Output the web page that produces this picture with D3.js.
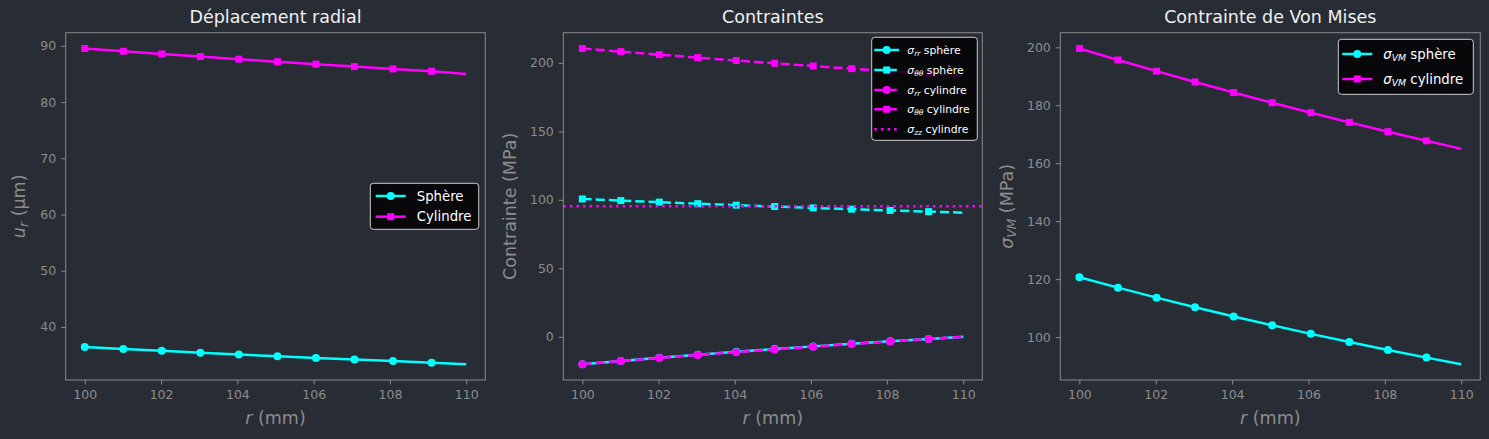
<!DOCTYPE html>
<html>
<head>
<meta charset="utf-8">
<script src="https://cdn.jsdelivr.net/npm/d3@7"></script>
<style>
  html, body { margin: 0; padding: 0; background: #282c34; }
  svg { display: block; font-family: "DejaVu Sans", sans-serif; }
</style>
</head>
<body>
<svg id="fig" width="1489" height="439"></svg>
<script>
// rayon (mm) : points avec marqueurs + dernier point à 110
const rVals = [100, 101.01, 102.02, 103.03, 104.04, 105.05, 106.06, 107.07, 108.08, 109.09, 110];

// déplacement radial (µm)
const uSphere = [36.45, 36.10, 35.76, 35.43, 35.11, 34.80, 34.50, 34.21, 33.93, 33.66, 33.38];
const uCyl = [89.52, 89.03, 88.55, 88.08, 87.62, 87.17, 86.73, 86.30, 85.88, 85.47, 85.0];

// contraintes (MPa)
const srrSphere = [-20.0, -17.61, -15.32, -13.11, -10.99, -8.95, -6.98, -5.10, -3.28, -1.52, 0];
const sttSphere = [100.63, 99.44, 98.29, 97.19, 96.12, 95.10, 94.12, 93.18, 92.27, 91.39, 90.63];
const srrCyl = [-20.0, -17.70, -15.48, -13.32, -11.22, -9.18, -7.20, -5.28, -3.41, -1.60, 0];
const sttCyl = [210.48, 208.19, 205.96, 203.80, 201.70, 199.67, 197.68, 195.76, 193.89, 192.08, 190.48];
const szzCyl = 95.24;

// Von Mises (MPa)
const vmSphere = [120.63, 117.05, 113.60, 110.30, 107.11, 104.05, 101.11, 98.27, 95.54, 92.91, 90.63];
const vmCyl = [199.60, 195.63, 191.78, 188.03, 184.40, 180.87, 177.44, 174.11, 170.87, 167.73, 164.96];

// graduations
const xTicks = [100, 102, 104, 106, 108, 110];
const yTicksU = [40, 50, 60, 70, 80, 90];
const yTicksS = [0, 50, 100, 150, 200];
const yTicksVM = [100, 120, 140, 160, 180, 200];

const CYAN = "#00ffff", MAGENTA = "#ff00ff";
const GREY = "#8c8c8c", SPINE = "#8a8a8a";
const DASH = "9.25,4", DOT = "2.5,4.1";

const svg = d3.select("#fig");
const axTop = 32.7, axBottom = 380;

// marge de 5 % comme matplotlib
function padded(vals) {
  const [lo, hi] = d3.extent(vals);
  const m = (hi - lo) * 0.05;
  return [lo - m, hi + m];
}

function panel(opts) {
  const g = svg.append("g");
  const x = d3.scaleLinear().domain(padded(rVals)).range([opts.left, opts.right]);
  const allY = opts.series.flatMap(s => s.values);
  const y = d3.scaleLinear().domain(padded(allY)).range([axBottom, axTop]);

  // axes
  const xAxis = g.append("g").attr("transform", `translate(0,${axBottom})`)
    .call(d3.axisBottom(x).tickValues(xTicks).tickSize(4.5).tickPadding(6));
  const yAxis = g.append("g").attr("transform", `translate(${opts.left},0)`)
    .call(d3.axisLeft(y).tickValues(opts.yTicks).tickSize(4.5).tickPadding(5));
  [xAxis, yAxis].forEach(a => {
    a.select(".domain").remove();
    a.selectAll(".tick line").attr("stroke", SPINE).attr("stroke-width", 1);
    a.selectAll(".tick text").attr("fill", GREY).style("font-size", "12.5px")
      .style("font-family", "DejaVu Sans");
  });

  // lignes
  const line = d3.line().x((d, i) => x(rVals[i])).y(d => y(d));
  const clip = "clip" + opts.id;
  g.append("clipPath").attr("id", clip).append("rect")
    .attr("x", opts.left).attr("y", axTop).attr("width", opts.right - opts.left).attr("height", axBottom - axTop);
  const plot = g.append("g").attr("clip-path", `url(#${clip})`);

  opts.series.forEach(s => {
    plot.append("path").datum(s.values).attr("d", line)
      .attr("fill", "none").attr("stroke", s.color).attr("stroke-width", 2.5)
      .attr("stroke-dasharray", s.dash || null);
    const pts = s.values.slice(0, 10);
    if (s.marker === "o") {
      plot.selectAll(null).data(pts).join("circle")
        .attr("cx", (d, i) => x(rVals[i])).attr("cy", d => y(d)).attr("r", 4)
        .attr("fill", s.color);
    } else {
      plot.selectAll(null).data(pts).join("rect")
        .attr("x", (d, i) => x(rVals[i]) - 3.5).attr("y", d => y(d) - 3.5)
        .attr("width", 7).attr("height", 7).attr("fill", s.color);
    }
  });
  if (opts.hline) {
    plot.append("line").attr("x1", opts.left).attr("x2", opts.right)
      .attr("y1", y(opts.hline.value)).attr("y2", y(opts.hline.value))
      .attr("stroke", opts.hline.color).attr("stroke-width", 2.5)
      .attr("stroke-dasharray", DOT);
  }

  // cadre
  g.append("rect").attr("x", opts.left).attr("y", axTop)
    .attr("width", opts.right - opts.left).attr("height", axBottom - axTop)
    .attr("fill", "none").attr("stroke", SPINE).attr("stroke-width", 1);

  // titre
  const cx = (opts.left + opts.right) / 2;
  g.append("text").attr("x", cx).attr("y", 23).attr("text-anchor", "middle")
    .attr("fill", "#f0f0f0").style("font-size", "17.5px").text(opts.title);

  // label x
  const xl = g.append("text").attr("x", cx).attr("y", 424).attr("text-anchor", "middle")
    .attr("fill", GREY).style("font-size", "17.5px");
  xl.append("tspan").attr("font-style", "italic").text("r");
  xl.append("tspan").text(" (mm)");

  // label y
  const yl = g.append("text")
    .attr("transform", `translate(${opts.ylabelX},${(axTop + axBottom) / 2}) rotate(-90)`)
    .attr("text-anchor", "middle").attr("fill", GREY).style("font-size", "17.5px");
  opts.ylabel(yl);

  // légende
  const L = opts.legend;
  const lg = g.append("g");
  lg.append("rect").attr("x", L.x0).attr("y", L.y0)
    .attr("width", L.x1 - L.x0).attr("height", L.y1 - L.y0).attr("rx", 3)
    .attr("fill", "rgba(0,0,0,0.8)").attr("stroke", "#cccccc").attr("stroke-width", 1);
  L.items.forEach((it, i) => {
    const ry = L.rows[i];
    lg.append("line").attr("x1", L.lx0).attr("x2", L.lx1).attr("y1", ry).attr("y2", ry)
      .attr("stroke", it.color).attr("stroke-width", 2.5)
      .attr("stroke-dasharray", it.dash || null);
    const mx = (L.lx0 + L.lx1) / 2;
    if (it.marker === "o") {
      lg.append("circle").attr("cx", mx).attr("cy", ry).attr("r", 4).attr("fill", it.color);
    } else if (it.marker === "s") {
      lg.append("rect").attr("x", mx - 3.5).attr("y", ry - 3.5).attr("width", 7).attr("height", 7)
        .attr("fill", it.color);
    }
    const t = lg.append("text").attr("x", L.tx).attr("y", ry).attr("dy", "0.35em")
      .attr("fill", "#ffffff").style("font-size", L.font + "px");
    it.label(t, L.font);
  });
}

function sigma(t, sub, rest, fs) {
  t.append("tspan").attr("font-style", "italic").text("σ");
  t.append("tspan").attr("font-style", "italic").attr("baseline-shift", "-22%")
    .style("font-size", (fs * 0.7) + "px").text(sub);
  t.append("tspan").text(" " + rest);
}

// Panneau 1 : déplacement radial
panel({
  id: 1, left: 65.7, right: 485.3, title: "Déplacement radial",
  series: [
    { values: uSphere, color: CYAN, marker: "o" },
    { values: uCyl, color: MAGENTA, marker: "s" }
  ],
  yTicks: yTicksU, ylabelX: 25,
  ylabel: t => {
    t.append("tspan").attr("font-style", "italic").text("u");
    t.append("tspan").attr("font-style", "italic").attr("baseline-shift", "-22%")
      .style("font-size", "12.5px").text("r");
    t.append("tspan").text(" (µm)");
  },
  legend: {
    x0: 370.3, x1: 478.7, y0: 183.3, y1: 229.3, rows: [196, 216.7],
    lx0: 375.7, lx1: 405.7, tx: 416.7, font: 13.3,
    items: [
      { color: CYAN, marker: "o", label: t => t.text("Sphère") },
      { color: MAGENTA, marker: "s", label: t => t.text("Cylindre") }
    ]
  }
});

// Panneau 2 : contraintes
panel({
  id: 2, left: 563.3, right: 982.3, title: "Contraintes",
  series: [
    { values: srrSphere, color: CYAN, marker: "o" },
    { values: sttSphere, color: CYAN, marker: "s", dash: DASH },
    { values: srrCyl, color: MAGENTA, marker: "o", dash: DASH },
    { values: sttCyl, color: MAGENTA, marker: "s", dash: DASH }
  ],
  hline: { value: szzCyl, color: MAGENTA },
  yTicks: yTicksS, ylabelX: 516,
  ylabel: t => t.text("Contrainte (MPa)"),
  legend: {
    x0: 871.7, x1: 977.3, y0: 37.3, y1: 140.3, rows: [50, 70, 90, 109.3, 129.3],
    lx0: 874.3, lx1: 899, tx: 907.3, font: 10.8,
    items: [
      { color: CYAN, marker: "o", label: (t, fs) => sigma(t, "rr", "sphère", fs) },
      { color: CYAN, marker: "s", dash: DASH, label: (t, fs) => sigma(t, "θθ", "sphère", fs) },
      { color: MAGENTA, marker: "o", dash: DASH, label: (t, fs) => sigma(t, "rr", "cylindre", fs) },
      { color: MAGENTA, marker: "s", dash: DASH, label: (t, fs) => sigma(t, "θθ", "cylindre", fs) },
      { color: MAGENTA, dash: DOT, label: (t, fs) => sigma(t, "zz", "cylindre", fs) }
    ]
  }
});

// Panneau 3 : Von Mises
panel({
  id: 3, left: 1060.3, right: 1480.3, title: "Contrainte de Von Mises",
  series: [
    { values: vmSphere, color: CYAN, marker: "o" },
    { values: vmCyl, color: MAGENTA, marker: "s" }
  ],
  yTicks: yTicksVM, ylabelX: 1013,
  ylabel: t => sigma(t, "VM", "(MPa)", 17.5),
  legend: {
    x0: 1338.3, x1: 1473.3, y0: 39.3, y1: 94.3, rows: [54, 79],
    lx0: 1342.3, lx1: 1372.3, tx: 1383.3, font: 13.3,
    items: [
      { color: CYAN, marker: "o", label: (t, fs) => sigma(t, "VM", "sphère", fs) },
      { color: MAGENTA, marker: "s", label: (t, fs) => sigma(t, "VM", "cylindre", fs) }
    ]
  }
});
</script>
</body>
</html>
